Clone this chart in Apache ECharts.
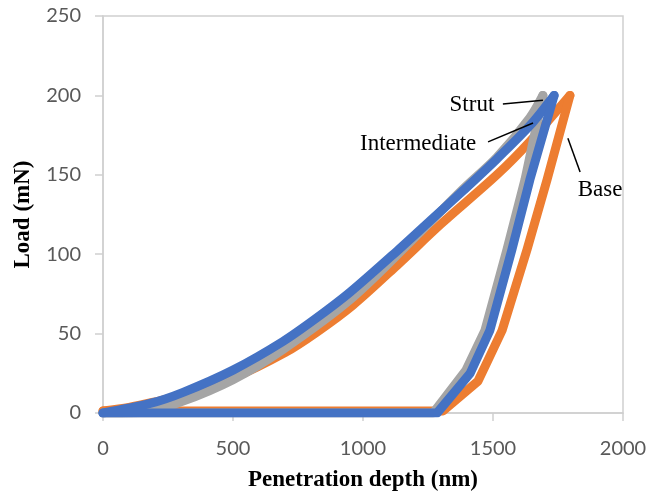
<!DOCTYPE html>
<html>
<head>
<meta charset="utf-8">
<script src="https://cdn.jsdelivr.net/npm/echarts@6/dist/echarts.min.js"></script>
<style>
  html, body { margin: 0; padding: 0; background: #fff; }
  #chart { width: 648px; height: 494px; }
</style>
</head>
<body>
<div id="chart"></div>
<script>
// depth in nm, load in mN; each sample = loading branch + unloading branch (back along 0)
var baseUpDepth   = [0, 100, 200, 300, 500, 700, 823, 962, 1131, 1300, 1515, 1642, 1796];
var baseUpLoad    = [1.3, 3.5, 7, 11, 22, 38, 51, 68, 93, 119, 150, 171, 200];
var baseDownDepth = [1796, 1708, 1631, 1535, 1480, 1442, 1308, 0];
var baseDownLoad  = [200, 147, 103, 52, 33, 20, 1.3, 1.3];

var strutUpDepth   = [0, 157, 300, 500, 692, 962, 1220, 1385, 1515, 1642, 1692];
var strutUpLoad    = [0, 0.5, 7, 21, 40, 73, 114, 141, 161, 186, 200];
var strutDownDepth = [1692, 1623, 1554, 1469, 1396, 1270, 0];
var strutDownLoad  = [200, 147, 103, 52, 27, 0, 0];

var interUpDepth   = [0, 181, 308, 500, 692, 823, 950, 1131, 1258, 1385, 1515, 1642, 1735];
var interUpLoad    = [0, 6, 13, 27, 45, 60, 76, 102, 121, 140, 160, 181, 200];
var interDownDepth = [1735, 1642, 1573, 1488, 1412, 1285, 0];
var interDownLoad  = [200, 147, 103, 52, 25, 0, 0];

// annotation text and leader lines (data coords)
var noteNames = ['Strut', 'Intermediate', 'Base'];
var notePos   = [[1419, 194], [1212, 169.4], [1912, 140.4]];
var noteFrom  = [[1538, 194.6], [1481, 170.7], [1788, 173]];
var noteTo    = [[1692, 197], [1654, 182.6], [1835, 151.8]];

var xTicks = [0, 500, 1000, 1500, 2000];
var yTicks = [0, 50, 100, 150, 200, 250];

function zip(xs, ys) {
    var out = [];
    for (var i = 0; i < xs.length; i++) out.push([xs[i], ys[i]]);
    return out;
}

var myChart = echarts.init(document.getElementById('chart'));

var lineSeries = function (name, color, xs, ys, smooth, z) {
    return {
        name: name,
        type: 'line',
        data: zip(xs, ys),
        showSymbol: false,
        symbol: 'none',
        smooth: smooth,
        z: z,
        lineStyle: { color: color, width: 9, join: 'round', cap: 'round' },
        animation: false
    };
};

var axisGrey = '#d0d0d0';

var option = {
    animation: false,
    grid: {
        left: 103, right: 25, top: 16, bottom: 81,
        containLabel: false,
        outerBoundsMode: 'none',
        show: true, borderColor: axisGrey, borderWidth: 1.5
    },
    xAxis: {
        type: 'value',
        min: xTicks[0], max: xTicks[xTicks.length - 1], interval: 500,
        name: 'Penetration depth (nm)',
        nameLocation: 'middle',
        nameGap: 56,
        nameTextStyle: { fontFamily: 'Liberation Serif', fontWeight: 'bold', fontSize: 23, color: '#000' },
        axisLine: { show: true, lineStyle: { color: axisGrey, width: 1.5 } },
        axisTick: { show: true, length: 8, lineStyle: { color: axisGrey, width: 1.5 } },
        axisLabel: {
            margin: 26, fontFamily: 'Lato', fontSize: 20, color: '#595959',
            formatter: function (v) { return String(v); }
        },
        splitLine: { show: false }
    },
    yAxis: {
        type: 'value',
        min: yTicks[0], max: yTicks[yTicks.length - 1], interval: 50,
        name: 'Load (mN)',
        nameLocation: 'middle',
        nameGap: 68,
        nameTextStyle: { fontFamily: 'Liberation Serif', fontWeight: 'bold', fontSize: 23, color: '#000' },
        axisLine: { show: true, lineStyle: { color: axisGrey, width: 1.5 } },
        axisTick: { show: true, length: 8, lineStyle: { color: axisGrey, width: 1.5 } },
        axisLabel: {
            margin: 22, fontFamily: 'Lato', fontSize: 20, color: '#595959',
            formatter: function (v) { return String(v); }
        },
        splitLine: { show: false }
    },
    series: [
        lineSeries('Base', '#ED7D31', baseUpDepth, baseUpLoad, 0.3, 2),
        lineSeries('Base', '#ED7D31', baseDownDepth, baseDownLoad, false, 2),
        lineSeries('Strut', '#A5A5A5', strutUpDepth, strutUpLoad, 0.3, 3),
        lineSeries('Strut', '#A5A5A5', strutDownDepth, strutDownLoad, false, 3),
        lineSeries('Intermediate', '#4472C4', interUpDepth, interUpLoad, 0.3, 4),
        lineSeries('Intermediate', '#4472C4', interDownDepth, interDownLoad, false, 4),
        {
            name: 'notes',
            type: 'line',
            data: [],
            silent: true,
            z: 5,
            markLine: {
                symbol: 'none',
                silent: true,
                label: { show: false },
                lineStyle: { color: '#000', width: 1.5, type: 'solid' },
                data: noteFrom.map(function (p, i) {
                    return [{ coord: p }, { coord: noteTo[i] }];
                })
            },
            markPoint: {
                symbolSize: 0,
                silent: true,
                label: {
                    show: true,
                    fontFamily: 'Liberation Serif',
                    fontSize: 23,
                    color: '#000',
                    formatter: '{b}',
                    position: 'inside'
                },
                data: notePos.map(function (p, i) {
                    return { name: noteNames[i], coord: p };
                })
            }
        }
    ]
};

myChart.setOption(option);
window.onresize = myChart.resize;
</script>
</body>
</html>
